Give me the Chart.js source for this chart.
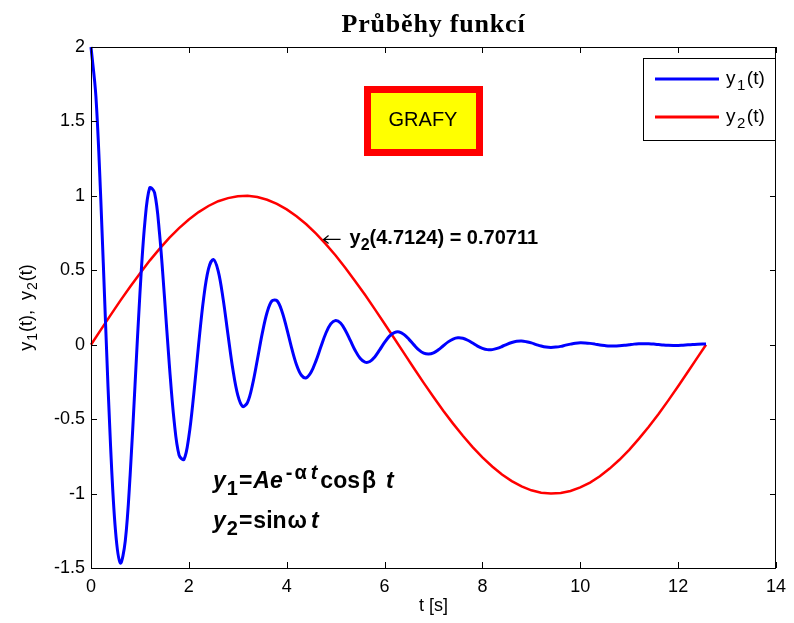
<!DOCTYPE html>
<html>
<head>
<meta charset="utf-8">
<script src="https://cdn.jsdelivr.net/npm/chart.js@4.4.1/dist/chart.umd.min.js"></script>
<style>
  html, body { margin: 0; padding: 0; background: #fff; }
</style>
</head>
<body>
<canvas id="graf" width="794" height="623"></canvas>
<script>
// sample times and values
const t1 = [
  0, 0.1, 0.2, 0.3, 0.4, 0.5, 0.6, 0.7, 0.8, 0.9,
  1.0, 1.1, 1.2, 1.3, 1.4, 1.5, 1.6, 1.7, 1.8, 1.9,
  2.0, 2.1, 2.2, 2.3, 2.4, 2.5, 2.6, 2.7, 2.8, 2.9,
  3.0, 3.1, 3.2, 3.3, 3.4, 3.5, 3.6, 3.7, 3.8, 3.9,
  4.0, 4.1, 4.2, 4.3, 4.4, 4.5, 4.6, 4.7, 4.8, 4.9,
  5.0, 5.1, 5.2, 5.3, 5.4, 5.5, 5.6, 5.7, 5.8, 5.9,
  6.0, 6.1, 6.2, 6.3, 6.4, 6.5, 6.6, 6.7, 6.8, 6.9,
  7.0, 7.1, 7.2, 7.3, 7.4, 7.5, 7.6, 7.7, 7.8, 7.9,
  8.0, 8.1, 8.2, 8.3, 8.4, 8.5, 8.6, 8.7, 8.8, 8.9,
  9.0, 9.1, 9.2, 9.3, 9.4, 9.5, 9.6, 9.7, 9.8, 9.9,
  10.0, 10.1, 10.2, 10.3, 10.4, 10.5, 10.6, 10.7, 10.8, 10.9,
  11.0, 11.1, 11.2, 11.3, 11.4, 11.5, 11.6, 11.7, 11.8, 11.9,
  12.0, 12.1, 12.2, 12.3, 12.4, 12.5, 12.57
];
const y1 = [
  2.000, 1.670, 0.978, 0.122, -0.681, -1.248, -1.467, -1.320, -0.876, -0.269,
  0.344, 0.818, 1.054, 1.020, 0.749, 0.328, -0.131, -0.515, -0.741, -0.771,
  -0.617, -0.333, 0.003, 0.306, 0.508, 0.572, 0.495, 0.308, 0.067, -0.167,
  -0.339, -0.415, -0.387, -0.270, -0.101, 0.076, 0.218, 0.295, 0.296, 0.227,
  0.110, -0.021, -0.134, -0.205, -0.222, -0.184, -0.107, -0.012, 0.077, 0.140,
  0.163, 0.146, 0.096, 0.029, -0.039, -0.091, -0.117, -0.113, -0.082, -0.035,
  0.015, 0.058, 0.082, 0.086, 0.068, 0.036, -0.001, -0.035, -0.057, -0.063,
  -0.055, -0.034, -0.007, 0.019, 0.038, 0.046, 0.043, 0.030, 0.011, -0.009,
  -0.024, -0.033, -0.033, -0.025, -0.012, 0.003, 0.015, 0.023, 0.025, 0.020,
  0.012, 0.001, -0.009, -0.016, -0.018, -0.016, -0.011, -0.003, 0.004, 0.010,
  0.013, 0.012, 0.009, 0.004, -0.002, -0.006, -0.009, -0.009, -0.007, -0.004,
  0.000, 0.004, 0.006, 0.007, 0.006, 0.004, 0.001, -0.002, -0.004, -0.005,
  -0.005, -0.003, -0.001, 0.001, 0.003, 0.004, 0.004
];
const t2 = [
  0, 0.2, 0.4, 0.6, 0.8, 1.0, 1.2, 1.4, 1.6, 1.8,
  2.0, 2.2, 2.4, 2.6, 2.8, 3.0, 3.2, 3.4, 3.6, 3.8,
  4.0, 4.2, 4.4, 4.6, 4.8, 5.0, 5.2, 5.4, 5.6, 5.8,
  6.0, 6.2, 6.4, 6.6, 6.8, 7.0, 7.2, 7.4, 7.6, 7.8,
  8.0, 8.2, 8.4, 8.6, 8.8, 9.0, 9.2, 9.4, 9.6, 9.8,
  10.0, 10.2, 10.4, 10.6, 10.8, 11.0, 11.2, 11.4, 11.6, 11.8,
  12.0, 12.2, 12.4, 12.57
];
const y2 = [
  0, 0.100, 0.199, 0.296, 0.389, 0.479, 0.565, 0.644, 0.717, 0.783,
  0.841, 0.891, 0.932, 0.964, 0.985, 0.998, 1.000, 0.992, 0.974, 0.946,
  0.909, 0.863, 0.809, 0.746, 0.676, 0.599, 0.516, 0.427, 0.335, 0.239,
  0.141, 0.042, -0.058, -0.158, -0.256, -0.351, -0.443, -0.530, -0.612, -0.688,
  -0.757, -0.818, -0.872, -0.916, -0.952, -0.978, -0.994, -1.000, -0.996, -0.983,
  -0.959, -0.926, -0.884, -0.832, -0.773, -0.706, -0.631, -0.551, -0.465, -0.374,
  -0.279, -0.182, -0.083, 0
];
const xTicks = [0, 2, 4, 6, 8, 10, 12, 14];
const yTicks = [-1.5, -1, -0.5, 0, 0.5, 1, 1.5, 2];
const markT = 4.7124;
const markY = 0.70711;

const SANS = '"Liberation Sans", Arial, Helvetica, sans-serif';

// draws text made of pieces, some of them sub/superscript; g = extra space before a piece
function rich(ctx, parts, x, y, size, align, scale) {
  const sc = scale || 0.8;
  const items = parts.map(p => {
    const fs = (p.sub || p.sup) ? Math.round(size * sc) : size;
    const font = (p.it ? 'italic ' : '') + (p.b ? 'bold ' : '') + fs + 'px ' + SANS;
    ctx.font = font;
    const dy = p.sub ? size * 0.3 : (p.sup ? -size * 0.4 : 0);
    return { s: p.s, font: font, w: ctx.measureText(p.s).width, dy: dy, g: p.g || 0 };
  });
  const total = items.reduce((a, i) => a + i.w + i.g, 0);
  let cx = align === 'center' ? x - total / 2 : x;
  ctx.textAlign = 'left';
  ctx.textBaseline = 'alphabetic';
  items.forEach(i => {
    cx += i.g;
    ctx.font = i.font;
    ctx.fillText(i.s, cx, y + i.dy);
    cx += i.w;
  });
}

const extras = {
  id: 'extras',
  afterDraw(chart) {
    const ctx = chart.ctx;
    const a = chart.chartArea;
    const xs = chart.scales.x, ys = chart.scales.y;
    ctx.save();

    // axes box with inward ticks
    ctx.strokeStyle = '#000';
    ctx.lineWidth = 1;
    ctx.strokeRect(a.left + 0.5, a.top + 0.5, a.right - a.left - 1, a.bottom - a.top);
    ctx.beginPath();
    xTicks.forEach(v => {
      const px = Math.round(xs.getPixelForValue(v)) + 0.5;
      ctx.moveTo(px, a.bottom); ctx.lineTo(px, a.bottom - 6);
      ctx.moveTo(px, a.top); ctx.lineTo(px, a.top + 6);
    });
    yTicks.forEach(v => {
      const py = Math.round(ys.getPixelForValue(v)) + 0.5;
      ctx.moveTo(a.left, py); ctx.lineTo(a.left + 6, py);
      ctx.moveTo(a.right, py); ctx.lineTo(a.right - 6, py);
    });
    ctx.stroke();

    ctx.fillStyle = '#000';
    // title
    ctx.font = 'bold 26px "Liberation Serif", "Times New Roman", serif';
    ctx.letterSpacing = '0.8px';
    ctx.textAlign = 'center';
    ctx.textBaseline = 'alphabetic';
    ctx.fillText('Průběhy funkcí', (a.left + a.right) / 2, 32);
    ctx.letterSpacing = '0px';

    // axis labels
    ctx.font = '18px ' + SANS;
    ctx.fillText('t [s]', (a.left + a.right) / 2, 611);
    ctx.save();
    ctx.translate(32, (a.top + a.bottom) / 2);
    ctx.rotate(-Math.PI / 2);
    rich(ctx, [
      { s: 'y' }, { s: '1', sub: true, g: 1 }, { s: '(t),  y', g: 1 }, { s: '2', sub: true, g: 1 }, { s: '(t)', g: 1 }
    ], 0, 0, 18, 'center');
    ctx.restore();

    // GRAFY box
    ctx.fillStyle = '#ffff00';
    ctx.fillRect(364, 86, 119, 70);
    ctx.strokeStyle = '#ff0000';
    ctx.lineWidth = 7;
    ctx.strokeRect(367.5, 89.5, 112, 63);
    ctx.fillStyle = '#000';
    ctx.font = '20px ' + SANS;
    ctx.textAlign = 'center';
    ctx.textBaseline = 'middle';
    ctx.fillText('GRAFY', 423, 120);

    // legend
    ctx.fillStyle = '#fff';
    ctx.fillRect(643, 58, 132, 82);
    ctx.strokeStyle = '#000';
    ctx.lineWidth = 1;
    ctx.strokeRect(643.5, 58.5, 132, 82);
    const leg = [['#0000ff', '1', 79], ['#ff0000', '2', 117]];
    leg.forEach(l => {
      ctx.strokeStyle = l[0];
      ctx.lineWidth = 3;
      ctx.beginPath();
      ctx.moveTo(655, l[2]); ctx.lineTo(719, l[2]);
      ctx.stroke();
      ctx.fillStyle = '#000';
      rich(ctx, [{ s: 'y' }, { s: l[1], sub: true, g: 1.5 }, { s: '(t)', g: 1.5 }], 726, l[2] + 5, 19, 'left');
    });

    // data point annotation
    const ax = xs.getPixelForValue(markT), ay = ys.getPixelForValue(markY);
    ctx.strokeStyle = '#000';
    ctx.lineWidth = 1.2;
    ctx.beginPath();
    ctx.moveTo(ax + 2, ay); ctx.lineTo(ax + 19, ay);
    ctx.moveTo(ax + 7, ay - 4); ctx.lineTo(ax + 2, ay); ctx.lineTo(ax + 7, ay + 4);
    ctx.stroke();
    ctx.fillStyle = '#000';
    rich(ctx, [
      { s: 'y', b: true }, { s: '2', b: true, sub: true },
      { s: '(' + markT + ') = ' + markY, b: true }
    ], ax + 28, ay + 5, 20, 'left');

    // formulas
    rich(ctx, [
      { s: 'y', b: true, it: true }, { s: '1', b: true, sub: true, g: 1 },
      { s: '=', b: true, g: 1 }, { s: 'A', b: true, it: true, g: 1 },
      { s: 'e', b: true, it: true }, { s: '-', b: true, sup: true, g: 3 },
      { s: '\u03b1', b: true, sup: true, g: 2 }, { s: 't', b: true, it: true, sup: true, g: 4 },
      { s: 'cos', b: true, g: 3 }, { s: '\u03b2', b: true, g: 2 },
      { s: 't', b: true, it: true, g: 10 }
    ], 213, 488, 23, 'left', 0.85);
    rich(ctx, [
      { s: 'y', b: true, it: true }, { s: '2', b: true, sub: true, g: 1 },
      { s: '=', b: true, g: 1 }, { s: 'sin', b: true, g: 1 },
      { s: '\u03c9', b: true, g: 1 }, { s: 't', b: true, it: true, g: 4 }
    ], 213, 528, 23, 'left', 0.85);

    ctx.restore();
  }
};

const ctx = document.getElementById('graf').getContext('2d');
const chart = new Chart(ctx, {
  type: 'scatter',
  data: {
    datasets: [
      {
        label: 'y1(t)',
        data: t1.map((t, i) => ({ x: t, y: y1[i] })),
        showLine: true,
        borderColor: '#0000ff',
        borderWidth: 3,
        pointRadius: 0,
        tension: 0.35,
        clip: false
      },
      {
        label: 'y2(t)',
        data: t2.map((t, i) => ({ x: t, y: y2[i] })),
        showLine: true,
        borderColor: '#ff0000',
        borderWidth: 2.5,
        pointRadius: 0,
        tension: 0,
        clip: false
      }
    ]
  },
  options: {
    responsive: false,
    animation: false,
    devicePixelRatio: 1,
    layout: { padding: { left: 0, right: 12, top: 47, bottom: 0 } },
    plugins: {
      legend: { display: false },
      tooltip: { enabled: false }
    },
    scales: {
      x: {
        type: 'linear',
        min: 0, max: 14,
        afterBuildTicks: s => { s.ticks = xTicks.map(v => ({ value: v })); },
        afterFit: s => { s.height = 55; },
        grid: { display: false, drawTicks: false },
        border: { display: false },
        ticks: {
          color: '#000',
          font: { family: SANS, size: 18 },
          padding: 8,
          maxRotation: 0,
          callback: v => String(v)
        }
      },
      y: {
        type: 'linear',
        min: -1.5, max: 2,
        afterBuildTicks: s => { s.ticks = yTicks.map(v => ({ value: v })); },
        afterFit: s => { s.width = 91; },
        grid: { display: false, drawTicks: false },
        border: { display: false },
        ticks: {
          color: '#000',
          font: { family: SANS, size: 18 },
          padding: 6,
          callback: v => String(v)
        }
      }
    }
  },
  plugins: [extras]
});
</script>
</body>
</html>
